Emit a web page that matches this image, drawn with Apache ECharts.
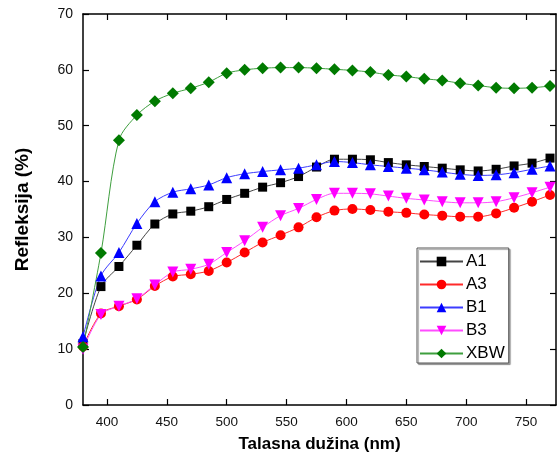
<!DOCTYPE html>
<html>
<head>
<meta charset="utf-8">
<script src="https://cdn.jsdelivr.net/npm/echarts@6/dist/echarts.min.js"></script>
<style>
  html, body { margin: 0; padding: 0; background: #fff; }
  #chart { width: 558px; height: 463px; }
</style>
</head>
<body>
<div id="chart"></div>
<script>
// Wavelength samples (nm)
const wavelengths = [380, 395, 410, 425, 440, 455, 470, 485, 500, 515, 530, 545, 560,
  575, 590, 605, 620, 635, 650, 665, 680, 695, 710, 725, 740, 755, 770];

// Reflectance (%) per sample
const A1 = [11.0, 21.2, 24.8, 28.6, 32.4, 34.2, 34.7, 35.5, 36.8, 37.9, 39.0, 39.8, 40.9,
  42.6, 44.0, 44.0, 43.9, 43.4, 43.0, 42.7, 42.4, 42.1, 41.9, 42.2, 42.8, 43.3, 44.2];
const A3 = [10.5, 16.4, 17.7, 18.9, 21.3, 23.0, 23.4, 24.0, 25.5, 27.3, 29.1, 30.4, 31.8,
  33.6, 34.8, 35.1, 34.9, 34.6, 34.4, 34.1, 33.9, 33.7, 33.7, 34.3, 35.3, 36.4, 37.6];
const B1 = [12.2, 23.1, 27.3, 32.5, 36.4, 38.1, 38.7, 39.4, 40.7, 41.4, 41.8, 42.1, 42.4,
  43.0, 43.6, 43.4, 43.0, 42.7, 42.4, 42.1, 41.7, 41.3, 41.1, 41.2, 41.6, 42.2, 42.8];
const B3 = [10.0, 16.2, 17.7, 19.0, 21.5, 23.8, 24.3, 25.2, 27.3, 29.4, 31.8, 33.9, 35.2,
  36.8, 37.9, 37.9, 37.8, 37.4, 37.0, 36.7, 36.4, 36.2, 36.2, 36.4, 37.1, 38.0, 39.0];
const XBW = [10.4, 27.2, 47.4, 51.9, 54.4, 55.8, 56.7, 57.8, 59.4, 60.0, 60.3, 60.4, 60.4,
  60.3, 60.1, 59.9, 59.6, 59.1, 58.8, 58.4, 58.1, 57.6, 57.2, 56.8, 56.7, 56.8, 57.1];

// Axis ticks
const xTicks = [400, 450, 500, 550, 600, 650, 700, 750];
const yTicks = [0, 10, 20, 30, 40, 50, 60, 70];

const pairs = (ys) => wavelengths.map((x, i) => [x, ys[i]]);
const diamond = 'path://M0,-1L1,0L0,1L-1,0Z';

const font = 'Liberation Sans, Arial, sans-serif';

function makeSeries(name, ys, color, lineColor, symbol, size, rotate) {
  return {
    name: name,
    type: 'line',
    data: pairs(ys),
    smooth: 0.3,
    symbol: symbol,
    symbolSize: size,
    symbolRotate: rotate || 0,
    showAllSymbol: true,
    itemStyle: { color: color, borderColor: color, borderWidth: 0 },
    lineStyle: { color: lineColor, width: 1 },
    emphasis: { disabled: true },
    animation: false
  };
}

const frameAxis = { show: true, onZero: false, lineStyle: { color: '#000', width: 1.5 } };
const frameTick = { show: true, inside: true, length: 6, lineStyle: { color: '#000', width: 1.2 } };

const chart = echarts.init(document.getElementById('chart'));
chart.setOption({
  animation: false,
  backgroundColor: '#ffffff',
  grid: { left: 83, right: 2, top: 14, bottom: 58, containLabel: false },
  xAxis: [
    {
      type: 'value', min: 380, max: 775, position: 'bottom',
      name: 'Talasna dužina (nm)', nameLocation: 'middle', nameGap: 31,
      nameTextStyle: { fontFamily: font, fontSize: 17, fontWeight: 'bold', color: '#000' },
      axisLine: frameAxis,
      axisTick: Object.assign({}, frameTick, { customValues: xTicks }),
      axisLabel: { customValues: xTicks, fontFamily: font, fontSize: 13.5, color: '#111', margin: 10 },
      splitLine: { show: false }
    },
    {
      type: 'value', min: 380, max: 775, position: 'top',
      axisLine: frameAxis,
      axisTick: Object.assign({}, frameTick, { customValues: xTicks }),
      axisLabel: { show: false },
      splitLine: { show: false }
    }
  ],
  yAxis: [
    {
      type: 'value', min: 0, max: 70, interval: 10, position: 'left',
      name: 'Refleksija (%)', nameLocation: 'middle', nameGap: 51, nameRotate: 90,
      nameTextStyle: { fontFamily: font, fontSize: 19, fontWeight: 'bold', color: '#000' },
      axisLine: frameAxis,
      axisTick: frameTick,
      axisLabel: { fontFamily: font, fontSize: 14, color: '#111', margin: 10,
        customValues: yTicks },
      splitLine: { show: false }
    },
    {
      type: 'value', min: 0, max: 70, interval: 10, position: 'right',
      axisLine: frameAxis,
      axisTick: frameTick,
      axisLabel: { show: false },
      splitLine: { show: false }
    }
  ],
  legend: {
    left: 417, top: 248,
    orient: 'vertical',
    itemWidth: 43, itemHeight: 12, itemGap: 6,
    padding: [5, 4, 1, 2],
    borderColor: '#555', borderWidth: 1,
    backgroundColor: '#fff',
    shadowColor: 'rgba(0,0,0,0.35)', shadowOffsetX: 1.5, shadowOffsetY: 1.5, shadowBlur: 1,
    textStyle: { fontFamily: font, fontSize: 17, color: '#000', padding: [0, 0, 0, -2] },
    data: ['A1', 'A3', 'B1', 'B3', 'XBW']
  },
  series: [
    makeSeries('A1', A1, '#000000', '#444444', 'rect', 9),
    makeSeries('A3', A3, '#ff0000', '#ff2a2a', 'circle', 10),
    makeSeries('B1', B1, '#0000ff', '#3c3cff', 'triangle', 11),
    makeSeries('B3', B3, '#ff00ff', '#ff4cff', 'triangle', 11, 180),
    makeSeries('XBW', XBW, '#007a00', '#3f9f3f', diamond, 12)
  ]
});
</script>
</body>
</html>
